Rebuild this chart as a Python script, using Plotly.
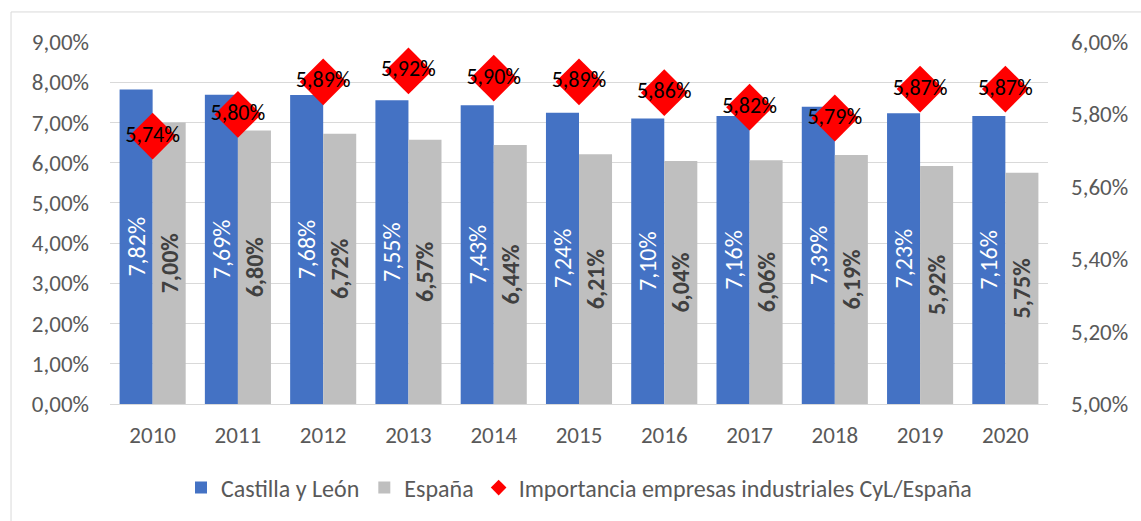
import plotly.graph_objects as go

years = ["2010", "2011", "2012", "2013", "2014", "2015", "2016", "2017", "2018", "2019", "2020"]
castilla_leon = [7.82, 7.69, 7.68, 7.55, 7.43, 7.24, 7.10, 7.16, 7.39, 7.23, 7.16]
espana = [7.00, 6.80, 6.72, 6.57, 6.44, 6.21, 6.04, 6.06, 6.19, 5.92, 5.75]
importancia = [5.74, 5.80, 5.89, 5.92, 5.90, 5.89, 5.86, 5.82, 5.79, 5.87, 5.87]

left_ticks = [0, 1, 2, 3, 4, 5, 6, 7, 8, 9]
right_ticks = [5.0, 5.2, 5.4, 5.6, 5.8, 6.0]


def fmt(v):
    return f"{v:.2f}".replace(".", ",") + "%"


FONT = "Carlito, Lato, sans-serif"
BLUE = "#4472C4"
GRAY = "#BFBFBF"
RED = "#FF0000"
TXT = "#595959"
GRID = "#D9D9D9"

fig = go.Figure()

fig.add_trace(go.Bar(
    x=years, y=castilla_leon, name="Castilla y León",
    marker=dict(color=BLUE, line=dict(width=0)),
    text=[fmt(v) for v in castilla_leon], textposition="inside",
    insidetextanchor="middle", textangle=-90, constraintext="none",
    textfont=dict(family=FONT, size=24, color="white"),
    hoverinfo="skip",
))
fig.add_trace(go.Bar(
    x=years, y=espana, name="España",
    marker=dict(color=GRAY, line=dict(width=0)),
    text=[fmt(v) for v in espana], textposition="inside",
    insidetextanchor="middle", textangle=-90, constraintext="none",
    textfont=dict(family=FONT, size=24, color="#404040", weight="bold"),
    hoverinfo="skip",
))
fig.add_trace(go.Scatter(
    x=years, y=importancia, yaxis="y2", mode="markers+text",
    name="Importancia empresas industriales CyL/España", showlegend=False,
    marker=dict(symbol="diamond", size=36, color=RED, line=dict(width=0)),
    text=[fmt(v) for v in importancia], textposition="middle center",
    textfont=dict(family=FONT, size=22, color="black"),
    hoverinfo="skip",
))
# legend entry for the diamonds (smaller symbol like the reference)
fig.add_trace(go.Scatter(
    x=[None], y=[None], yaxis="y2", mode="markers",
    name="Importancia empresas industriales CyL/España",
    marker=dict(symbol="diamond", size=12, color=RED),
))

fig.update_layout(
    width=1141, height=521,
    margin=dict(l=110, r=93, t=42, b=117, autoexpand=False),
    paper_bgcolor="white", plot_bgcolor="white",
    barmode="group", bargap=0.225, bargroupgap=0,
    font=dict(family=FONT, color=TXT, size=23),
    xaxis=dict(
        type="category", range=[-0.5, len(years) - 0.5],
        showgrid=False, showline=True, linecolor=GRID, linewidth=1,
        ticks="", tickfont=dict(size=23, color=TXT), ticklabelstandoff=10,
        automargin=False,
    ),
    yaxis=dict(
        range=[0, 9], tickvals=left_ticks, ticktext=[fmt(v) for v in left_ticks],
        showgrid=True, gridcolor=GRID, gridwidth=1, zeroline=False,
        tickfont=dict(size=23, color=TXT), ticklabelstandoff=20, automargin=False,
    ),
    yaxis2=dict(
        range=[5, 6], tickvals=right_ticks, ticktext=[fmt(v) for v in right_ticks],
        overlaying="y", side="right", showgrid=False, zeroline=False,
        tickfont=dict(size=23, color=TXT), ticklabelstandoff=22, automargin=False,
    ),
    legend=dict(
        orientation="h", x=0.5, xanchor="center", y=-0.232, yanchor="middle",
        font=dict(size=24, color=TXT), itemsizing="trace",
        traceorder="normal", bgcolor="rgba(0,0,0,0)",
    ),
    shapes=[dict(
        type="rect", xref="paper", yref="paper",
        x0=-0.1055, x1=1.11, y0=-0.34, y1=1.083,
        line=dict(color=GRID, width=1), fillcolor="rgba(0,0,0,0)", layer="below",
    )],
)

fig.write_html(
    "out.html",
    config={"displayModeBar": False},
    post_script="document.body.style.margin='0';",
)
